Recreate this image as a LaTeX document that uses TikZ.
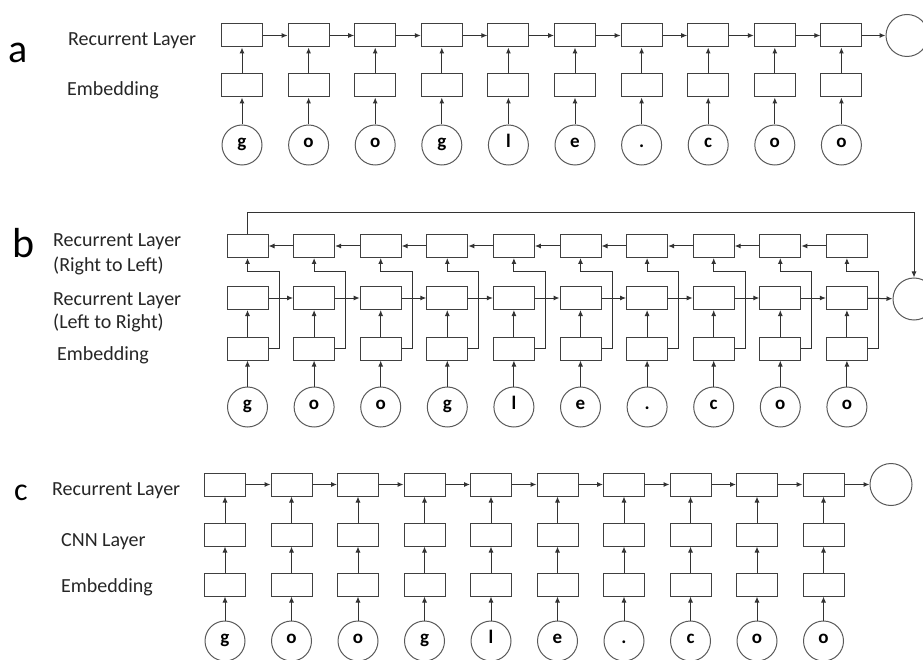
\documentclass[tikz,border=0pt]{standalone}
\usepackage{fontspec}
\setmainfont{Carlito}
\usetikzlibrary{arrows.meta,calc}
\begin{document}
\begin{tikzpicture}[x=1pt,y=-1pt,
 box/.style={draw=black!75,line width=1pt,minimum width=41pt,minimum height=23pt,inner sep=0pt},
 chr/.style={draw=black!65,line width=1pt,circle,minimum size=40pt,inner sep=0pt,text height=1.2ex,text depth=0pt,font=\fontsize{19}{19}\selectfont\bfseries},
 outc/.style={draw=black!65,line width=1pt,circle,minimum size=42pt,inner sep=0pt},
 arr/.style={draw=black!80,line width=1pt,-{Latex[length=6pt,width=5pt]}},
 lab/.style={anchor=base west,inner sep=0pt,font=\fontsize{20}{24}\selectfont,text=black!85},
 pan/.style={anchor=base,inner sep=0pt,text=black}]
\useasboundingbox (0,0) rectangle (923,660);

% ---------- panel a ----------
\node[pan,font=\fontsize{40}{40}\selectfont] (pa) at (18.5,63) {a};
\node[lab] (la1) at (68,46) {Recurrent Layer};
\node[lab] (la2) at (67,95.5) {Embedding};
\foreach \i/\t in {1/g,2/o,3/o,4/g,5/l,6/e,7/.,8/c,9/o,10/o}{
 \pgfmathsetmacro\x{242+66.6*(\i-1)}
 \node[box] (ar\i) at (\x,35.5) {};
 \node[box] (ae\i) at (\x,85.5) {};
 \node[chr] (ac\i) at (\x,145) {\t};
 \draw[arr] (ac\i) -- (ae\i);
 \draw[arr] (ae\i) -- (ar\i);
}
\node[outc] (aout) at (907,35.5) {};
\foreach \i [evaluate=\i as \j using int(\i+1)] in {1,...,9}
 \draw[arr] (ar\i) -- (ar\j);
\draw[arr] (ar10) -- (aout);

% ---------- panel b ----------
\node[pan,font=\fontsize{42}{42}\selectfont] (pb) at (24,258) {b};
\node[lab] (lb1) at (53,247) {Recurrent Layer};
\node[lab] (lb2) at (53,272) {(Right to Left)};
\node[lab] (lb3) at (53,305) {Recurrent Layer};
\node[lab] (lb4) at (53,328) {(Left to Right)};
\node[lab] (lb5) at (57,360) {Embedding};
\foreach \i/\t in {1/g,2/o,3/o,4/g,5/l,6/e,7/.,8/c,9/o,10/o}{
 \pgfmathsetmacro\x{247.5+66.6*(\i-1)}
 \node[box] (bt\i) at (\x,246) {};
 \node[box] (bm\i) at (\x,298) {};
 \node[box] (be\i) at (\x,348.5) {};
 \node[chr] (bc\i) at (\x,407) {\t};
 \draw[arr] (bc\i) -- (be\i);
 \draw[arr] (be\i) -- (bm\i);
 \draw[arr] (be\i.east) -| ++(10.5,-76.5) -| (bt\i.south);
}
\node[outc] (bout) at (914,299) {};
\foreach \i [evaluate=\i as \j using int(\i+1)] in {1,...,9}{
 \draw[arr] (bm\i) -- (bm\j);
 \draw[arr] (bt\j) -- (bt\i);
}
\draw[arr] (bm10) -- (bout);
\draw[arr] (bt1.north) -- ++(0,-21.5) -| (bout.north);

% ---------- panel c ----------
\node[pan,font=\fontsize{32}{32}\selectfont] (pc) at (21,500) {c};
\node[lab] (lc1) at (52,495) {Recurrent Layer};
\node[lab] (lc2) at (61,546) {CNN Layer};
\node[lab] (lc3) at (61,592) {Embedding};
\foreach \i/\t in {1/g,2/o,3/o,4/g,5/l,6/e,7/.,8/c,9/o,10/o}{
 \pgfmathsetmacro\x{225+66.5*(\i-1)}
 \node[box] (cr\i) at (\x,484.5) {};
 \node[box] (cn\i) at (\x,534.5) {};
 \node[box] (ce\i) at (\x,584.5) {};
 \node[chr] (cc\i) at (\x,641) {\t};
 \draw[arr] (cc\i) -- (ce\i);
 \draw[arr] (ce\i) -- (cn\i);
 \draw[arr] (cn\i) -- (cr\i);
}
\node[outc] (cout) at (891,484.5) {};
\foreach \i [evaluate=\i as \j using int(\i+1)] in {1,...,9}
 \draw[arr] (cr\i) -- (cr\j);
\draw[arr] (cr10) -- (cout);
\end{tikzpicture}
\end{document}
